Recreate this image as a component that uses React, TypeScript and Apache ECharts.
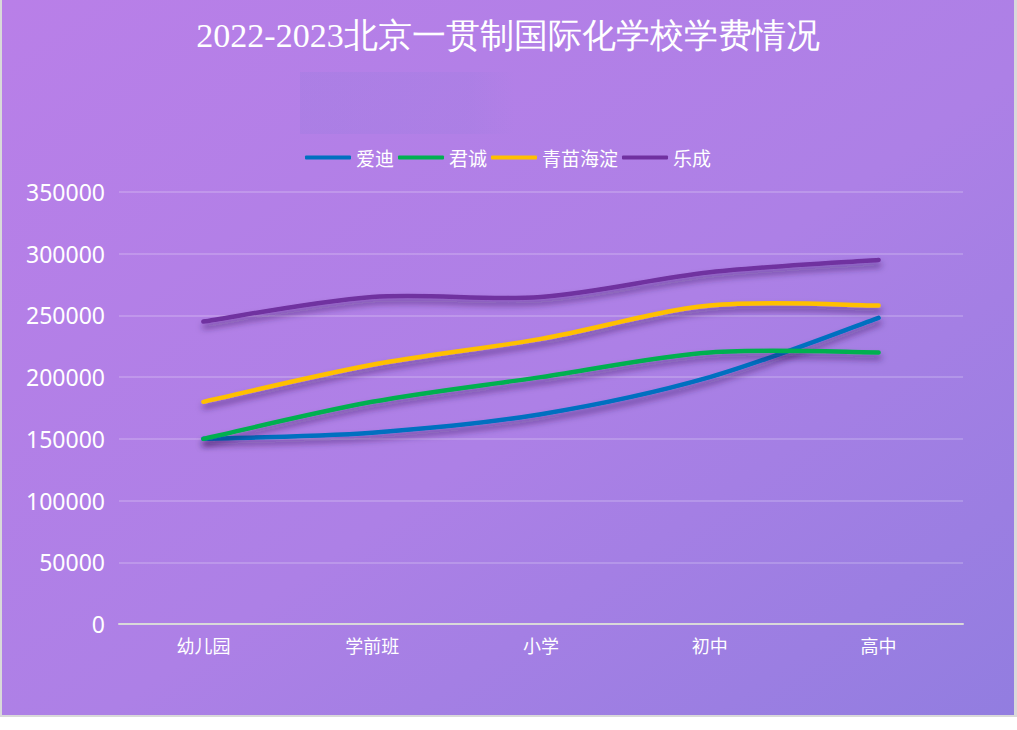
import React, { useEffect, useRef } from "react";
import * as echarts from "echarts";

const titleText = "2022-2023北京一贯制国际化学校学费情况";
const categories = ["幼儿园", "学前班", "小学", "初中", "高中"];
const seriesNames = ["爱迪", "君诚", "青苗海淀", "乐成"];
const aidi = [150000, 155000, 170000, 200000, 248000];
const juncheng = [150000, 180000, 200000, 220000, 220000];
const qingmiao = [180000, 210000, 231000, 258000, 258000];
const lecheng = [245000, 265000, 265000, 285000, 295000];
const seriesColors = ["#0070c0", "#00b050", "#ffc000", "#7030a0"];
const yMax = 350000;
const yInterval = 50000;

function splinePath(pts: number[][]): string {
  // Catmull-Rom style spline (like spreadsheet smoothed lines)
  const n = pts.length;
  let d = `M${pts[0][0]},${pts[0][1]}`;
  for (let i = 0; i < n - 1; i++) {
    const p0 = pts[Math.max(0, i - 1)];
    const p1 = pts[i];
    const p2 = pts[i + 1];
    const p3 = pts[Math.min(n - 1, i + 2)];
    const c1x = p1[0] + (p2[0] - p0[0]) / 6;
    const c1y = p1[1] + (p2[1] - p0[1]) / 6;
    const c2x = p2[0] - (p3[0] - p1[0]) / 6;
    const c2y = p2[1] - (p3[1] - p1[1]) / 6;
    d += ` C${c1x},${c1y} ${c2x},${c2y} ${p2[0]},${p2[1]}`;
  }
  return d;
}

export default function App() {
  const ref = useRef<HTMLDivElement>(null);
  useEffect(() => {
    if (!ref.current) return;
    const chart = echarts.init(ref.current, undefined, { renderer: "svg" });
    const values = [aidi, juncheng, qingmiao, lecheng];
    chart.setOption({
      animation: false,
      backgroundColor: {
        type: "linear",
        x: 0,
        y: 0,
        x2: 1,
        y2: 1,
        colorStops: [
          { offset: 0, color: "#b97fe8" },
          { offset: 0.55, color: "#ad80e6" },
          { offset: 1, color: "#927de0" },
        ],
      },
      title: {
        text: titleText,
        left: "center",
        top: 13,
        textStyle: {
          color: "#ffffff",
          fontSize: 34,
          fontWeight: "normal",
          fontFamily: "'Liberation Serif', 'DejaVu Serif', serif",
        },
      },
      graphic: [
        {
          type: "rect",
          shape: { x: 298, y: 72, width: 215, height: 62 },
          style: {
            fill: {
              type: "linear",
              x: 0,
              y: 0,
              x2: 1,
              y2: 0,
              colorStops: [
                { offset: 0, color: "rgba(150,125,222,0.28)" },
                { offset: 0.8, color: "rgba(150,125,222,0.2)" },
                { offset: 1, color: "rgba(150,125,222,0)" },
              ],
            },
          },
          silent: true,
        },
      ],
      legend: {
        data: seriesNames,
        top: 143,
        left: "center",
        icon: "roundRect",
        itemWidth: 46,
        itemHeight: 4,
        itemGap: 4,
        textStyle: {
          color: "#ffffff",
          fontSize: 19,
          fontFamily: "'Noto Sans CJK SC', sans-serif",
        },
      },
      grid: { left: 117, right: 51, top: 192, bottom: 91 },
      xAxis: {
        type: "category",
        data: categories,
        boundaryGap: true,
        axisLine: { lineStyle: { color: "#d9d9d9", width: 2 } },
        axisTick: { show: false },
        axisLabel: {
          color: "#ffffff",
          fontSize: 18,
          margin: 12,
          fontFamily: "'Noto Sans CJK SC', sans-serif",
        },
      },
      yAxis: {
        type: "value",
        min: 0,
        max: yMax,
        interval: yInterval,
        axisLine: { show: false },
        axisTick: { show: false },
        axisLabel: {
          color: "#ffffff",
          fontSize: 23,
          margin: 14,
          fontFamily: "'Noto Sans', sans-serif",
          formatter: (v: number) => String(v),
        },
        splitLine: { lineStyle: { color: "rgba(255,255,255,0.18)", width: 2 } },
      },
      series: seriesNames.map((name, i) => ({
        name,
        type: "custom",
        data: values[i].map((v, j) => [j, v]),
        encode: { x: 0, y: 1 },
        itemStyle: { color: seriesColors[i] },
        clip: false,
        renderItem: (params: any, api: any) => {
          if (params.dataIndex !== 0) return { type: "group", children: [] };
          const pts = values[i].map((v, j) => api.coord([j, v]));
          return {
            type: "path",
            shape: { pathData: splinePath(pts) },
            style: {
              fill: "none",
              stroke: seriesColors[i],
              lineWidth: 4.5,
              lineCap: "round",
              lineJoin: "round",
              shadowColor: "rgba(40,20,70,0.5)",
              shadowBlur: 6,
              shadowOffsetY: 5,
              shadowOffsetX: 1,
            },
          };
        },
      })),
    });
    return () => chart.dispose();
  }, []);
  return (
    <div
      style={{
        position: "absolute",
        left: 0,
        top: 0,
        width: 1017,
        height: 717,
        boxSizing: "border-box",
        borderLeft: "2px solid #d9d9d9",
        borderRight: "3px solid #d9d9d9",
        borderBottom: "2px solid #d9d9d9",
        background: "#ffffff",
      }}
    >
      <div ref={ref} style={{ width: 1012, height: 715 }} />
    </div>
  );
}
